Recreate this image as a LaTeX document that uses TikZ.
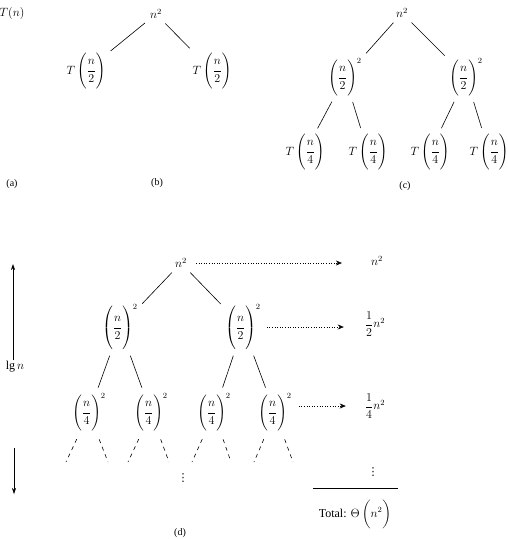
\documentclass[tikz,border=0pt]{standalone}
\usepackage{amsmath}
\usepackage{fontspec}
\setmainfont{Liberation Serif}
\newfontfamily\dejavu{DejaVu Sans}
\usetikzlibrary{arrows.meta}
\newcommand{\frB}[2]{\left(\vphantom{\rule[-15pt]{0pt}{30pt}}\dfrac{\rule[-5pt]{0pt}{5pt}#1}{#2}\right)}
\newcommand{\frD}[2]{\left(\vphantom{\rule[-19pt]{0pt}{38pt}}\dfrac{\rule[-5pt]{0pt}{5pt}#1}{#2}\right)}
\newcommand{\frE}[2]{\left(\vphantom{\rule[-16pt]{0pt}{32pt}}\dfrac{\rule[-5pt]{0pt}{5pt}#1}{#2}\right)}
\begin{document}
\begin{tikzpicture}[x=1pt,y=-1pt,
  nd/.style={inner sep=1pt,font=\fontsize{12}{14}\selectfont},
  lbl/.style={inner sep=1pt,font=\fontsize{10}{12}\selectfont},
  vdot/.style={inner sep=0pt,font=\dejavu\fontsize{11}{12}\selectfont},
  tree/.style={line width=0.6pt,shorten <=5pt,shorten >=5pt},
  leaf/.style={line width=0.6pt,dash pattern=on 4pt off 4pt,shorten <=6pt},
  sumarrow/.style={line width=0.6pt,dotted,-{Stealth[length=6pt,width=5pt]}},
  axisarrow/.style={line width=0.6pt,-{Stealth[length=6pt,width=4pt]}}]
\useasboundingbox (0,0) rectangle (508,539);
% (a)
\node[nd] (Tn) at (12,13) {$T(n)$};
\node[lbl] (la) at (12,184) {(a)};
% (b)
\node[nd] (b0) at (156,14) {$n^{2}$};
\node[nd] (bl) at (86,71) {$T\frB{n}{2}$};
\node[nd] (br) at (212,71) {$T\frB{n}{2}$};
\draw[tree] (b0) -- (bl);
\draw[tree] (b0) -- (br);
\node[lbl] (lb) at (157,183) {(b)};
% (c)
\node[nd] (c0) at (402,13) {$n^{2}$};
\node[nd] (cl) at (345,77) {$\frB{n}{2}^{2}$};
\node[nd] (cr) at (466,77) {$\frB{n}{2}^{2}$};
\node[nd] (c1) at (305,152) {$T\frB{n}{4}$};
\node[nd] (c2) at (368,152) {$T\frB{n}{4}$};
\node[nd] (c3) at (430,152) {$T\frB{n}{4}$};
\node[nd] (c4) at (489,152) {$T\frB{n}{4}$};
\draw[tree] (c0) -- (cl);
\draw[tree] (c0) -- (cr);
\draw[tree] (cl) -- (c1);
\draw[tree] (cl) -- (c2);
\draw[tree] (cr) -- (c3);
\draw[tree] (cr) -- (c4);
\node[lbl] (lc) at (405,186) {(c)};
% (d)
\node[nd] (d0) at (181,263) {$n^{2}$};
\node[nd] (dl) at (120,327) {$\frD{n}{2}^{2}$};
\node[nd] (dr) at (243,327) {$\frD{n}{2}^{2}$};
\node[nd] (l1) at (89,413) {$\frE{n}{4}^{2}$};
\node[nd] (l2) at (151,413) {$\frE{n}{4}^{2}$};
\node[nd] (l3) at (214,413) {$\frE{n}{4}^{2}$};
\node[nd] (l4) at (275,413) {$\frE{n}{4}^{2}$};
\draw[tree] (d0) -- (dl);
\draw[tree] (d0) -- (dr);
\draw[tree] (dl) -- (l1);
\draw[tree] (dl) -- (l2);
\draw[tree] (dr) -- (l3);
\draw[tree] (dr) -- (l4);
\coordinate (e11) at (66,462);
\coordinate (e12) at (108,462);
\coordinate (e21) at (128,462);
\coordinate (e22) at (169,462);
\coordinate (e31) at (192,462);
\coordinate (e32) at (231,462);
\coordinate (e41) at (254,462);
\coordinate (e42) at (293,462);
\draw[leaf] (l1) -- (e11);
\draw[leaf] (l1) -- (e12);
\draw[leaf] (l2) -- (e21);
\draw[leaf] (l2) -- (e22);
\draw[leaf] (l3) -- (e31);
\draw[leaf] (l3) -- (e32);
\draw[leaf] (l4) -- (e41);
\draw[leaf] (l4) -- (e42);
\node[vdot] (vd1) at (183,478) {⋮};
% sums
\node[nd] (s0) at (377,261) {$n^{2}$};
\node[nd] (s1) at (375,324) {$\dfrac{1}{2}n^{2}$};
\node[nd] (s2) at (375,406) {$\dfrac{1}{4}n^{2}$};
\draw[sumarrow,shorten <=8pt,shorten >=28pt] (d0) -- (d0 -| s0.west);
\draw[sumarrow,shorten <=5pt,shorten >=20pt] (dr.east) -- (dr.east -| s1.west);
\draw[sumarrow,shorten <=6pt,shorten >=18pt] (l4.east |- s2) -- (s2.west);
\node[vdot] (vd2) at (373,472) {⋮};
\coordinate (sl) at (313,488);
\coordinate (sr) at (398,488);
\draw[line width=0.6pt] (sl) -- (sr);
\node[nd] (tot) at (355,514) {Total: $\Theta\left(\vphantom{\rule[-9pt]{0pt}{18pt}}n^{2}\right)$};
\node[lbl] (ld) at (180,533) {(d)};
% lg n axis
\node[nd] (lgn) at (15,367) {$\lg n$};
\coordinate (upE) at (13,264);
\draw[axisarrow] (upE |- lgn.north) -- (upE);
\coordinate (dnS) at (14,448);
\coordinate (dnE) at (14,494);
\draw[axisarrow] (dnS) -- (dnE);
\end{tikzpicture}
\end{document}
